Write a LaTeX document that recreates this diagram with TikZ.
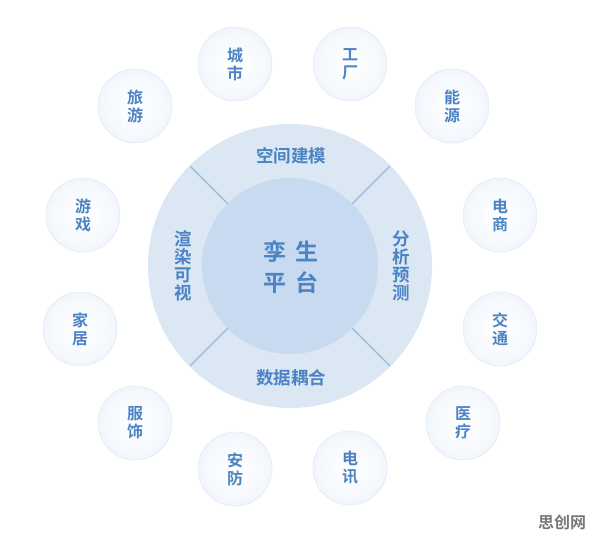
\documentclass[tikz,border=0pt]{standalone}
\usepackage{fontspec}
\newfontfamily\cjk{Noto Sans CJK SC}[BoldFont={Noto Sans CJK SC Bold}]
\usetikzlibrary{calc}
\definecolor{ringfill}{RGB}{220,231,244}
\definecolor{corefill}{RGB}{199,218,239}
\definecolor{divline}{RGB}{150,183,222}
\definecolor{txtblue}{RGB}{76,131,196}
\definecolor{ballmid}{RGB}{244,248,253}
\definecolor{ballrim}{RGB}{208,223,242}
\definecolor{ballline}{RGB}{225,234,246}
\definecolor{markgray}{RGB}{120,120,120}
\pgfdeclareradialshading{ballshade}{\pgfpoint{0bp}{0bp}}{color(0bp)=(white); color(22bp)=(ballmid); color(50bp)=(ballrim)}
\tikzset{
  ball/.style={circle, minimum size=74pt, inner sep=0pt, shading=ballshade, draw=ballline, line width=0.6pt,
    align=center, text=txtblue, font=\cjk\bfseries\fontsize{16}{18}\selectfont},
  ringlabel/.style={align=center, text=txtblue, inner sep=0pt, font=\cjk\bfseries\fontsize{17.5}{18}\selectfont},
  corelabel/.style={align=center, text=txtblue, inner sep=0pt, font=\cjk\bfseries\fontsize{23}{31}\selectfont},
  divider/.style={draw=divline, line width=1.3pt}
}
\begin{document}
\begin{tikzpicture}[x=1pt,y=-1pt]
\useasboundingbox (0,0) rectangle (596,543);
\coordinate (c) at (290,266);
% ring and core
\fill[ringfill] (c) circle (142);
\fill[corefill] (c) circle (88);
\foreach \a in {45,135,225,315}
  \draw[divider] ($(c)+(\a:88)$) -- ($(c)+(\a:141)$);
% core and ring labels
\node[corelabel] (core) at (291,267) {孪\hspace{10pt}生\\平\hspace{10pt}台};
\node[ringlabel] (top) at (291,156) {空间建模};
\node[ringlabel] (bottom) at (291,378) {数据耦合};
\node[ringlabel] (left) at (183,266) {渲\\染\\可\\视};
\node[ringlabel] (right) at (401,266) {分\\析\\预\\测};
% satellite circles
\node[ball] (city) at (235,64) {城\\市};
\node[ball] (factory) at (350,64) {工\\厂};
\node[ball] (energy) at (452,106) {能\\源};
\node[ball] (ecom) at (500,215) {电\\商};
\node[ball] (traffic) at (500,329) {交\\通};
\node[ball] (medical) at (463,423) {医\\疗};
\node[ball] (telecom) at (350,468) {电\\讯};
\node[ball] (security) at (235,469) {安\\防};
\node[ball] (apparel) at (135,423) {服\\饰};
\node[ball] (home) at (80,329) {家\\居};
\node[ball] (game) at (83,215) {游\\戏};
\node[ball] (travel) at (135,106) {旅\\游};
% watermark
\node[text=markgray, font=\cjk\bfseries\fontsize{16}{18}\selectfont, inner sep=0pt] (mark) at (562,522) {思创网};
\end{tikzpicture}
\end{document}
